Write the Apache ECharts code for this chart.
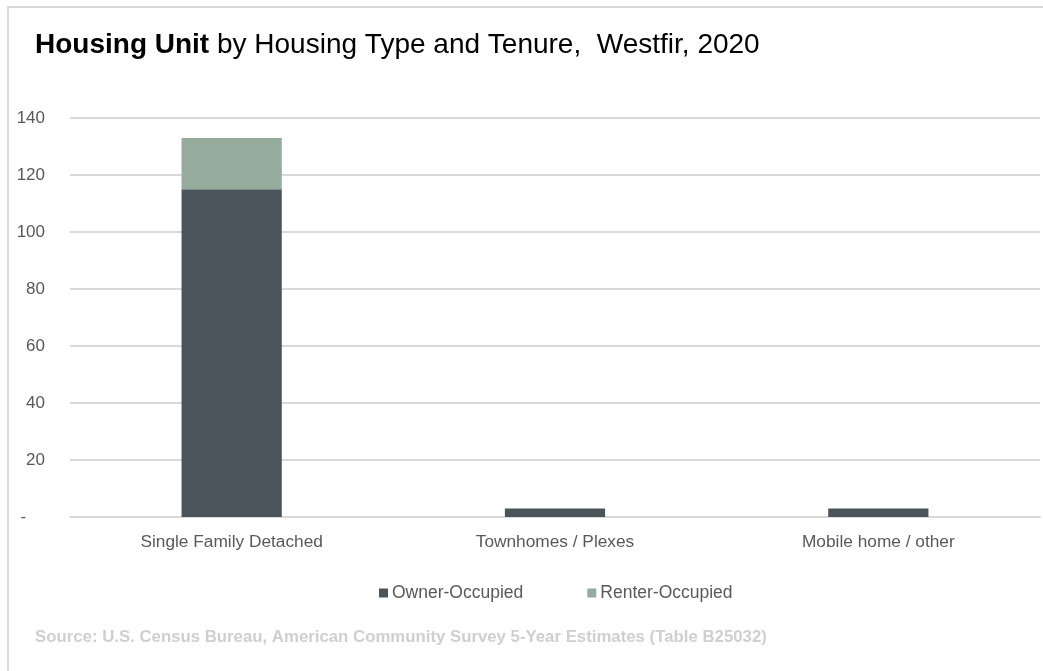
<!DOCTYPE html>
<html>
<head>
<meta charset="utf-8">
<title>Housing Unit by Housing Type and Tenure, Westfir, 2020</title>
<script src="https://cdn.jsdelivr.net/npm/echarts@6/dist/echarts.min.js"></script>
<style>
  html, body { margin: 0; padding: 0; background: #ffffff; }
  #frame {
    position: absolute; left: 7px; top: 6px; width: 1040px; height: 670px;
    border-left: 2px solid #d9d9d9; border-top: 2px solid #d9d9d9; box-sizing: border-box;
  }
  #chart { position: absolute; left: 0; top: 0; width: 1043px; height: 671px; }
</style>
</head>
<body>
<div id="frame"></div>
<div id="chart"></div>
<script>
// Housing types (x categories)
const categories = ['Single Family Detached', 'Townhomes / Plexes', 'Mobile home / other'];
// Occupied units by tenure
const ownerOccupied = [115, 3, 3];
const renterOccupied = [18, 0, 0];
// Value axis ticks
const yTicks = [0, 20, 40, 60, 80, 100, 120, 140];

const FONT = "'Liberation Sans', Arial, sans-serif";

const chart = echarts.init(document.getElementById('chart'), null, { renderer: 'canvas' });

chart.setOption({
  animation: false,
  backgroundColor: 'transparent',
  title: [
    {
      left: 35, top: 31, padding: 0,
      text: '{b|Housing Unit} by Housing Type and Tenure,  Westfir, 2020',
      textStyle: {
        fontFamily: FONT, fontSize: 28, color: '#000000', fontWeight: 'normal',
        rich: { b: { fontFamily: FONT, fontSize: 28, fontWeight: 'bold', color: '#000000' } }
      }
    },
    {
      left: 35, top: 629, padding: 0,
      text: 'Source: U.S. Census Bureau, American Community Survey 5-Year Estimates (Table B25032)',
      textStyle: { fontFamily: FONT, fontSize: 16.8, fontWeight: 'bold', color: '#cfcfcf' }
    }
  ],
  legend: {
    data: ['Owner-Occupied', 'Renter-Occupied'],
    top: 579, left: 374,
    icon: 'rect', itemWidth: 9, itemHeight: 9, itemGap: 64,
    textStyle: { fontFamily: FONT, fontSize: 17.5, color: '#595959', padding: [0, 0, 0, -1] }
  },
  grid: { left: 70, right: 3, top: 118, bottom: 154, containLabel: false },
  xAxis: {
    type: 'category',
    data: categories,
    axisLine: { lineStyle: { color: '#d9d9d9', width: 2 } },
    axisTick: { show: false },
    axisLabel: { fontFamily: FONT, fontSize: 17.3, color: '#595959', margin: 17 }
  },
  yAxis: {
    type: 'value',
    min: yTicks[0], max: yTicks[yTicks.length - 1], interval: 20,
    axisLine: { show: false },
    axisTick: { show: false },
    splitLine: { lineStyle: { color: '#d9d9d9', width: 2 } },
    axisLabel: {
      fontFamily: FONT, fontSize: 17, color: '#595959', margin: 25,
      formatter: v => (v === 0 ? '-    ' : String(v))
    }
  },
  series: [
    {
      name: 'Owner-Occupied', type: 'bar', stack: 'tenure',
      data: ownerOccupied, barCategoryGap: '69%',
      itemStyle: { color: '#4a555b' }
    },
    {
      name: 'Renter-Occupied', type: 'bar', stack: 'tenure',
      data: renterOccupied, barCategoryGap: '69%',
      itemStyle: { color: '#95ab9c' }
    }
  ]
});
</script>
</body>
</html>
